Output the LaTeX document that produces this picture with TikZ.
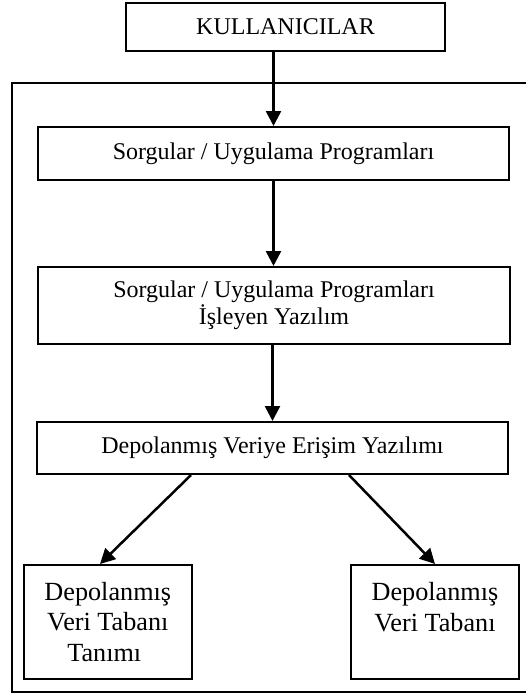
\documentclass[tikz,border=0pt]{standalone}
\usepackage{fontspec}
\setmainfont{Liberation Serif}
\usetikzlibrary{arrows.meta}
\begin{document}
\begin{tikzpicture}[x=1pt,y=-1pt,
  box/.style={draw, line width=2pt, inner sep=0pt, align=center,
    font=\fontsize{24}{27}\selectfont},
  bigbox/.style={box, font=\fontsize{26.2}{30.5}\selectfont},
  arr/.style={line width=2.5pt, -{Triangle[length=15pt,width=15pt]}},
  frame/.style={line width=2pt}]
\useasboundingbox (0,0) rectangle (526,693);
% outer frame (open on the right, runs past the edge)
\draw[frame] (535,83) -- (11.5,83) -- (11.5,692) -- (535,692);
% nodes
\node[box, minimum width=319pt, minimum height=48pt] (kul) at (285.5,27) {KULLANICILAR};
\node[box, minimum width=471pt, minimum height=53pt] (b2) at (273.5,153.5) {Sorgular / Uygulama Programları};
\node[box, minimum width=472pt, minimum height=77pt] (b3) at (274,305.5) {Sorgular / Uygulama Programları\\İşleyen Yazılım};
\node[box, minimum width=471pt, minimum height=52pt] (b4) at (272.5,448) {Depolanmış Veriye Erişim Yazılımı};
\node[bigbox, minimum width=167.5pt, minimum height=114pt] (b5) at (107.8,622) {Depolanmış\\Veri Tabanı\\Tanımı\hspace*{7pt}};
\node[bigbox, minimum width=168pt, minimum height=114pt] (b6) at (435,622) {Depolanmış\\Veri Tabanı\\\mbox{}};
% connectors
\draw[arr] (kul.south -| b2.north) -- (b2.north);
\draw[arr] (b2.south) -- (b3.north -| b2.south);
\draw[arr] (b3.south -| b4.north) -- (b4.north);
\draw[arr] ([xshift=-81.5pt]b4.south) -- ([xshift=-7.8pt]b5.north);
\draw[arr] ([xshift=76.5pt]b4.south) -- (b6.north);
\end{tikzpicture}
\end{document}
